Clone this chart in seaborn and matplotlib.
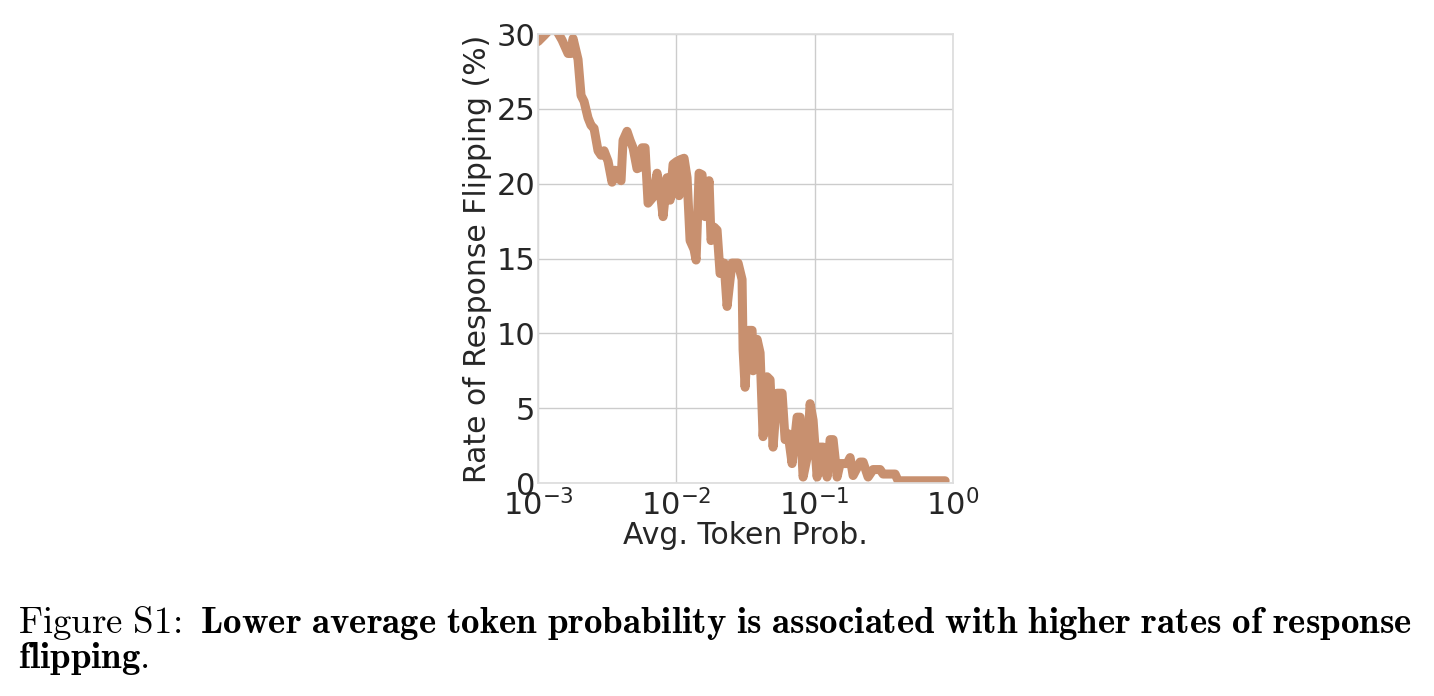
import numpy as np
import pandas as pd
import seaborn as sns
import matplotlib
matplotlib.use('Agg')
import matplotlib.pyplot as plt

sns.set_theme(style='whitegrid')
plt.rcParams['font.family'] = ['DejaVu Sans']
plt.rcParams['mathtext.fontset'] = 'cm'

# 平均token概率 与 回答翻转率(%)
avg_prob = [0.00100, 0.001105, 0.001242, 0.001350, 0.001491, 0.001648, 0.001732, 0.001791,
            0.001946, 0.002046, 0.002151, 0.002298, 0.002416, 0.002540, 0.002715, 0.002854,
            0.003001, 0.003208, 0.003428, 0.003605, 0.003790, 0.003982, 0.004117, 0.004399,
            0.004627, 0.004863, 0.005197, 0.005464, 0.005650, 0.005938, 0.006243, 0.006784,
            0.007251, 0.007622, 0.008013, 0.008566, 0.009004, 0.009465, 0.010117, 0.010459,
            0.010636, 0.011367, 0.011950, 0.012562, 0.013428, 0.013884, 0.014593, 0.015338,
            0.016124, 0.017230, 0.017814, 0.018729, 0.019689, 0.020701, 0.022130, 0.023260,
            0.024450, 0.025270, 0.027930, 0.029850, 0.030360, 0.031390, 0.033000, 0.035270,
            0.035860, 0.038330, 0.040290, 0.042350, 0.045260, 0.047580, 0.050020, 0.053460,
            0.058110, 0.061090, 0.064210, 0.068640, 0.074600, 0.078410, 0.082430, 0.088100,
            0.092600, 0.097360, 0.104100, 0.109400, 0.115000, 0.122900, 0.129200, 0.135800,
            0.145200, 0.152600, 0.171500, 0.180300, 0.189500, 0.213000, 0.223900, 0.243200,
            0.264400, 0.297100, 0.312300, 0.381300, 0.400900, 0.876800]
flip_rate = [29.5, 29.9, 30.4, 30.3, 29.6, 28.7, 28.7, 29.7,
             28.3, 25.9, 25.5, 24.4, 23.9, 23.7, 22.2, 21.9,
             22.2, 21.5, 20.1, 20.9, 20.4, 20.2, 22.9, 23.5,
             22.9, 22.4, 21.0, 21.1, 22.4, 22.4, 18.7, 19.1,
             20.7, 19.6, 17.8, 20.4, 18.9, 21.3, 21.5, 19.2,
             21.6, 21.7, 20.4, 16.2, 15.6, 14.9, 20.7, 20.6,
             17.8, 20.2, 16.2, 17.1, 16.9, 14.0, 14.7, 11.8,
             13.6, 14.7, 14.7, 13.6, 8.9, 6.4, 10.2, 10.2,
             7.5, 9.6, 8.7, 3.1, 7.1, 6.9, 2.4, 6.0,
             6.0, 2.9, 3.3, 1.3, 4.4, 4.4, 0.4, 1.7,
             5.3, 4.2, 0.4, 2.4, 2.4, 0.4, 2.9, 2.9,
             0.4, 1.3, 1.3, 1.7, 0.5, 1.4, 1.4, 0.4,
             0.9, 0.9, 0.6, 0.6, 0.15, 0.15]

df = pd.DataFrame({'prob': avg_prob, 'flip': flip_rate})

fig = plt.figure(figsize=(14.34, 6.96), dpi=100)
ax = fig.add_axes([0.3752, 0.3060, 0.2894, 0.6451])
sns.lineplot(data=df, x='prob', y='flip', ax=ax, color='#c8906f', linewidth=6.5,
             sort=False, estimator=None)
ax.set_xscale('log')
ax.set_xlim(1e-3, 1e0)
ax.set_ylim(0, 30)
ax.set_yticks([0, 5, 10, 15, 20, 25, 30])
ax.tick_params(labelsize=22, length=0, pad=2)
ax.tick_params(axis='x', pad=4)
ax.set_xlabel('Avg. Token Prob.', fontsize=21.5, labelpad=0)
ax.set_ylabel('Rate of Response Flipping (%)', fontsize=21.5, labelpad=3)
for s in ax.spines.values():
    s.set_color('#dddddd')

# 图注
fig.text(18 / 1434, 1 - 633 / 696,
         r'$\mathrm{Figure\ S1}\!:\ \mathbf{Lower\ average\ token\ probability\ is\ associated\ with\ higher\ rates\ of\ response}$',
         fontsize=26.6, va='baseline', ha='left', color='black')
fig.text(18 / 1434, 1 - 668 / 696, r'$\mathbf{flipping}\mathrm{.}$',
         fontsize=26.6, va='baseline', ha='left', color='black')

plt.savefig('out.png', dpi=100)
